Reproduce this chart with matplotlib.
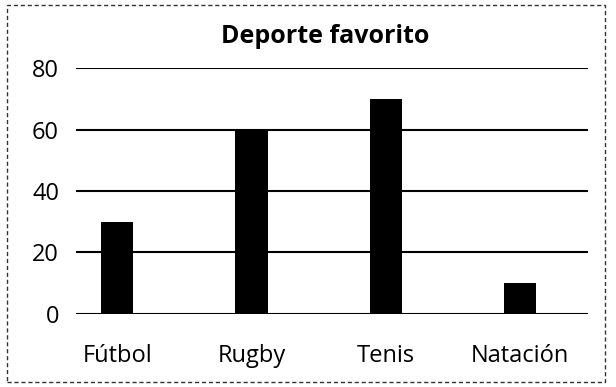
import matplotlib.pyplot as plt
from matplotlib.patches import Rectangle

# datos de la encuesta
deportes = ['Fútbol', 'Rugby', 'Tenis', 'Natación']
votos = [30, 60, 70, 10]
marcas_y = [0, 20, 40, 60, 80]

plt.rcParams['font.family'] = ['Open Sans', 'DejaVu Sans']

fig = plt.figure(figsize=(6.16, 3.87), dpi=100)
ax = fig.add_axes([0.123, 0.189, 0.832, 0.635])

x = range(len(deportes))
ax.bar(x, votos, width=0.24, color='black', zorder=3)

# lineas horizontales de la grilla
for v in marcas_y:
    ax.axhline(v, color='black', lw=1.5, zorder=2)

ax.set_xlim(-0.31, 3.51)
ax.set_ylim(0, 80)
ax.set_yticks(marcas_y)
ax.set_yticklabels([str(v) for v in marcas_y], fontsize=17)
ax.set_xticks(list(x))
ax.set_xticklabels(deportes, fontsize=17)
ax.tick_params(length=0, pad=16)
ax.tick_params(axis='y', pad=12)
ax.tick_params(axis='x', pad=22)
for s in ax.spines.values():
    s.set_visible(False)

fig.text(0.528, 0.905, 'Deporte favorito', ha='center', va='center',
         fontsize=18, fontweight='bold')

# marco punteado alrededor
fig.patches.append(Rectangle((0.012, 0.012), 0.97, 0.975, transform=fig.transFigure,
                             fill=False, ec='#333333', lw=1.0, ls=(0, (3, 2))))

fig.savefig('out.png', dpi=100)
